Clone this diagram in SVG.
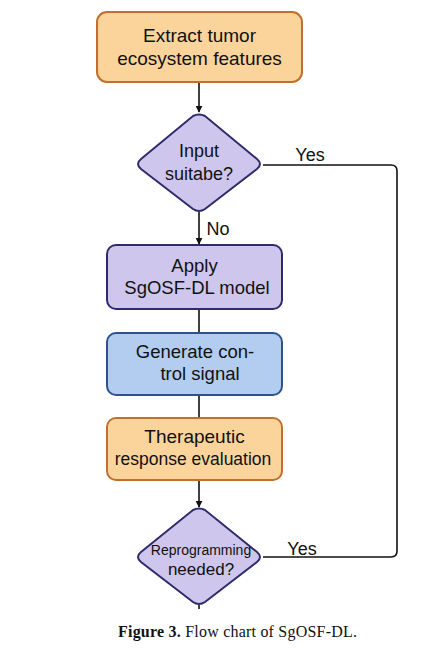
<svg xmlns="http://www.w3.org/2000/svg" width="438" height="651" viewBox="0 0 438 651">
<style>
.t{font-family:"Liberation Sans",Arial,sans-serif;fill:#111;text-anchor:middle}
.c{fill:none;stroke:#111;stroke-width:1.6}
.or{fill:#FBD49C;stroke:#C0702C;stroke-width:2}
.pu{fill:#CEC6EC;stroke:#2F2B6A;stroke-width:2}
.bl{fill:#B2CDEF;stroke:#2F528F;stroke-width:2}
.cap{font-family:"Liberation Serif","Times New Roman",serif;font-size:16px;fill:#111}
</style>
<defs>
<marker id="ah" viewBox="0 0 10 10" refX="9" refY="5" markerWidth="7" markerHeight="7" markerUnits="userSpaceOnUse" orient="auto">
<path d="M0,0 L10,5 L0,10 z" fill="#111"/>
</marker>
</defs>
<g id="connectors">
<line class="c" x1="199" y1="82" x2="199" y2="112" marker-end="url(#ah)"/>
<line class="c" x1="199" y1="212" x2="199" y2="244" marker-end="url(#ah)"/>
<line class="c" x1="199" y1="309" x2="199" y2="333"/>
<line class="c" x1="199" y1="395" x2="199" y2="418"/>
<line class="c" x1="199" y1="480" x2="199" y2="507" marker-end="url(#ah)"/>
<line class="c" x1="199" y1="605" x2="199" y2="609"/>
<path class="c" d="M263,165 H391 Q397,165 397,171 V551 Q397,557 391,557 H263"/>
<text class="t" x="310" y="161" font-size="18">Yes</text>
<text class="t" x="218" y="235" font-size="18">No</text>
<text class="t" x="302" y="555" font-size="18">Yes</text>
</g>
<g id="n1">
<rect class="or" x="97" y="12" width="205" height="70" rx="10"/>
<text class="t" x="199.5" y="42" font-size="19">Extract tumor</text>
<text class="t" x="199.5" y="65" font-size="19">ecosystem features</text>
</g>
<g id="n2">
<path class="pu" d="M193,116 Q199,113 205,116 L257,159 Q263,164 257,169 L205,209 Q199,213 193,209 L141,169 Q135,164 141,159 Z"/>
<text class="t" x="199" y="157" font-size="18">Input</text>
<text class="t" x="199" y="180" font-size="18">suitabe?</text>
</g>
<g id="n3">
<rect class="pu" x="107" y="245" width="175" height="64" rx="9"/>
<text class="t" x="194.5" y="272" font-size="18.5">Apply</text>
<text class="t" x="197" y="294" font-size="18.5">SgOSF-DL model</text>
</g>
<g id="n4">
<rect class="bl" x="107" y="333" width="175" height="62" rx="9"/>
<text class="t" x="195" y="358" font-size="18.5">Generate con-</text>
<text class="t" x="200" y="380" font-size="18.5">trol signal</text>
</g>
<g id="n5">
<rect class="or" x="107" y="418" width="175" height="62" rx="9"/>
<text class="t" x="194.5" y="443" font-size="19">Therapeutic</text>
<text class="t" x="193" y="465" font-size="17.5">response evaluation</text>
</g>
<g id="n6">
<path class="pu" d="M193,510 Q199,507 205,510 L257,552 Q263,557 257,562 L205,602 Q199,606 193,602 L141,562 Q135,557 141,552 Z"/>
<text class="t" x="201" y="555" font-size="14">Reprogramming</text>
<text class="t" x="201" y="575" font-size="17">needed?</text>
</g>
<text class="cap" x="118" y="637" textLength="239" lengthAdjust="spacing"><tspan font-weight="bold">Figure 3.</tspan> Flow chart of SgOSF-DL.</text>
</svg>
